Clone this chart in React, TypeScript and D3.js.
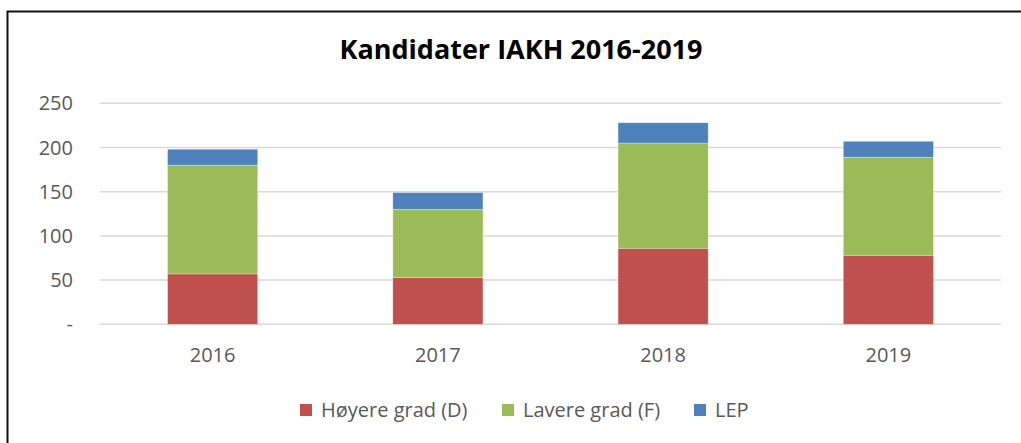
import React, { useRef, useEffect } from 'react';
import * as d3 from 'd3';

const years = ['2016', '2017', '2018', '2019'];
const hoyere = [57, 53, 86, 78];
const lavere = [123, 77, 119, 111];
const lep = [18, 19, 23, 18];
const seriesNames = ['Høyere grad (D)', 'Lavere grad (F)', 'LEP'];
const seriesColors = ['#c0504d', '#9bbb59', '#4f81bd'];
const yTicks = [0, 50, 100, 150, 200, 250];

const App = () => {
  const ref = useRef<SVGSVGElement>(null);

  useEffect(() => {
    const svg = d3.select(ref.current);
    svg.selectAll('*').remove();
    const font = "'Open Sans', sans-serif";

    // chart frame (cut off on right and bottom)
    svg.append('rect')
      .attr('x', 7.5).attr('y', 11.5)
      .attr('width', 1100).attr('height', 500)
      .attr('fill', 'white').attr('stroke', '#111').attr('stroke-width', 2);

    const x = d3.scaleBand().domain(years).range([100, 1001]).paddingInner(0.6).paddingOuter(0.3);
    const y = d3.scaleLinear().domain([0, 250]).range([324.3, 103.3]);

    // gridlines
    svg.append('g')
      .selectAll('line')
      .data(yTicks)
      .enter()
      .append('line')
      .attr('x1', 100).attr('x2', 1001)
      .attr('y1', (d) => y(d)).attr('y2', (d) => y(d))
      .attr('stroke', '#d9d9d9').attr('stroke-width', 1.5);

    // y labels
    svg.append('g')
      .selectAll('text')
      .data(yTicks)
      .enter()
      .append('text')
      .attr('x', 73).attr('y', (d) => y(d))
      .attr('dy', '0.35em')
      .attr('text-anchor', 'end')
      .attr('font-family', font).attr('font-size', 20)
      .attr('fill', '#595959')
      .text((d) => (d === 0 ? '-' : String(d)));

    // stacked bars
    const rows = years.map((yr, i) => ({ year: yr, a: hoyere[i], b: lavere[i], c: lep[i] }));
    const stack = d3.stack<any>().keys(['a', 'b', 'c']);
    const layers = stack(rows);

    svg.append('g')
      .selectAll('g')
      .data(layers)
      .enter()
      .append('g')
      .attr('fill', (d, i) => seriesColors[i])
      .selectAll('rect')
      .data((d) => d)
      .enter()
      .append('rect')
      .attr('x', (d: any) => x(d.data.year))
      .attr('width', x.bandwidth())
      .attr('y', (d) => y(d[1]))
      .attr('height', (d) => y(d[0]) - y(d[1]))
      .attr('stroke', 'rgba(255,255,255,0.35)')
      .attr('stroke-width', 0.8);

    // x labels
    svg.append('g')
      .selectAll('text')
      .data(years)
      .enter()
      .append('text')
      .attr('x', (d) => x(d)! + x.bandwidth() / 2)
      .attr('y', 355)
      .attr('dy', '0.35em')
      .attr('text-anchor', 'middle')
      .attr('font-family', font).attr('font-size', 20)
      .attr('fill', '#595959')
      .text((d) => d);

    // title
    svg.append('text')
      .attr('x', 521).attr('y', 50)
      .attr('dy', '0.35em')
      .attr('text-anchor', 'middle')
      .attr('font-family', font).attr('font-size', 27).attr('font-weight', 'bold')
      .attr('fill', '#000')
      .text('Kandidater IAKH 2016-2019');

    // legend
    const legendX = [300, 502, 694];
    const lg = svg.append('g')
      .selectAll('g')
      .data(seriesNames)
      .enter()
      .append('g')
      .attr('transform', (d, i) => 'translate(' + legendX[i] + ',410)');
    lg.append('rect')
      .attr('x', 0).attr('y', -6)
      .attr('width', 12).attr('height', 12)
      .attr('fill', (d, i) => seriesColors[i]);
    lg.append('text')
      .attr('x', 21).attr('y', 0)
      .attr('dy', '0.35em')
      .attr('font-family', font).attr('font-size', 20)
      .attr('fill', '#595959')
      .text((d) => d);
  }, []);

  return (
    <svg
      ref={ref}
      width="1021"
      height="443"
      style={{ position: 'absolute', left: 0, top: 0, background: 'white' }}
    />
  );
};

export default App;
